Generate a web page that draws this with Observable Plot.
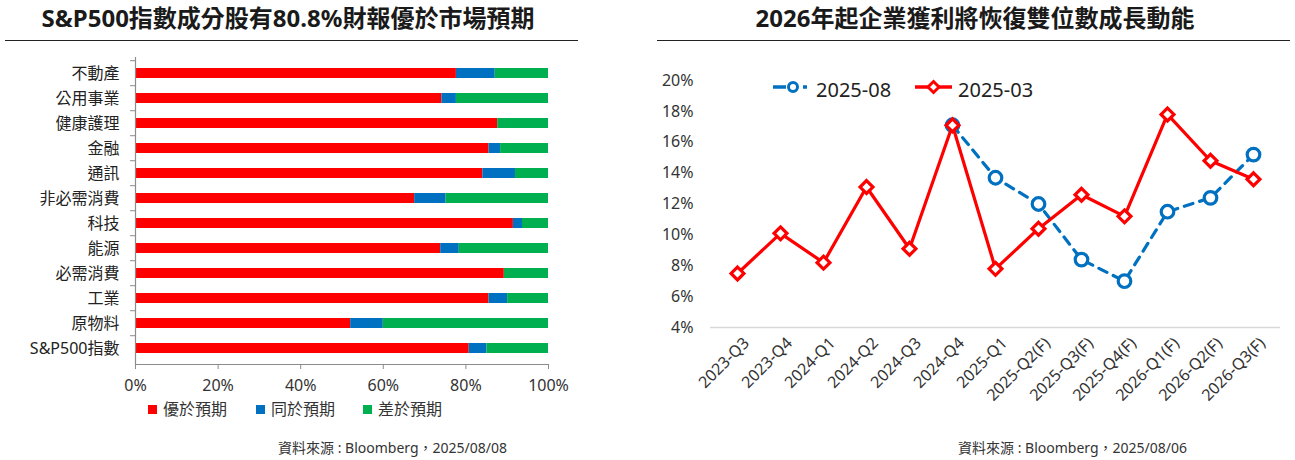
<!DOCTYPE html>
<html><head><meta charset="utf-8">
<script src="https://cdn.jsdelivr.net/npm/d3@7"></script>
<script src="https://cdn.jsdelivr.net/npm/@observablehq/plot@0.6"></script>
<style>
body{margin:0;background:#fff;font-family:"Noto Sans","Noto Sans CJK TC",sans-serif;}
#wrap{position:relative;width:1295px;height:460px;overflow:hidden;background:#fff;}
.title{position:absolute;top:2px;font-size:24px;font-weight:bold;color:#1a1a1a;text-align:center;line-height:32px;white-space:nowrap;}
.uline{position:absolute;top:40px;height:0;border-top:1.5px solid #222;}
.cap{position:absolute;top:437px;font-size:14px;color:#333;white-space:nowrap;}
.plot{position:absolute;}
.plot svg{overflow:visible;display:block;}
.leg{position:absolute;font-size:16px;color:#333;white-space:nowrap;}
.leg .sw{position:absolute;width:9px;height:9px;top:6px;}
.leg .tx{position:absolute;top:-3px;}
.rleg{position:absolute;font-size:20px;color:#222;white-space:nowrap;}
.rleg svg{position:absolute;top:0;}
.rleg .tx{position:absolute;top:-1px;}
</style></head>
<body>
<div id="wrap">
  <div class="title" style="left:0;width:576px;">S&amp;P500指數成分股有80.8%財報優於市場預期</div>
  <div class="uline" style="left:5px;width:573px;"></div>
  <div class="title" style="left:657px;width:636px;">2026年起企業獲利將恢復雙位數成長動能</div>
  <div class="uline" style="left:657px;width:633px;"></div>
  <div id="left" class="plot" style="left:0;top:45px;"></div>
  <div id="right" class="plot" style="left:650px;top:45px;"></div>
  <div id="lleg"></div>
  <div id="rleg"></div>
  <div class="cap" style="left:278px;">資料來源 : Bloomberg，2025/08/08</div>
  <div class="cap" style="left:958px;">資料來源 : Bloomberg，2025/08/06</div>
</div>
<script>
// ---------- Left chart data ----------
const sectors = ["不動產","公用事業","健康護理","金融","通訊","非必需消費","科技","能源","必需消費","工業","原物料","S&P500指數"];
const beat   = [77.7, 74.2, 87.7, 85.6, 84.1, 67.6, 91.5, 73.9, 89.3, 85.6, 52.1, 80.8];
const inline = [ 9.4,  3.5,  0.0,  2.8,  7.9,  7.6,  2.2,  4.5,  0.0,  4.5,  7.9,  4.3];
const miss   = [12.9, 22.3, 12.3, 11.6,  8.0, 24.8,  6.3, 21.6, 10.7,  9.9, 40.0, 14.9];
const outcomeNames = ["優於預期","同於預期","差於預期"];
const outcomeColors = ["#ff0000","#0070c0","#00b050"];
const xTicksLeft = [0, 0.2, 0.4, 0.6, 0.8, 1.0];

// ---------- Right chart data ----------
const quarters = ["2023-Q3","2023-Q4","2024-Q1","2024-Q2","2024-Q3","2024-Q4","2025-Q1","2025-Q2(F)","2025-Q3(F)","2025-Q4(F)","2026-Q1(F)","2026-Q2(F)","2026-Q3(F)"];
const est202503 = [7.5, 10.1, 8.2, 13.1, 9.1, 17.1, 7.8, 10.4, 12.6, 11.2, 17.8, 14.8, 13.6];
const est202508 = [null, null, null, null, null, 17.1, 13.7, 12.0, 8.4, 7.0, 11.5, 12.4, 15.2];
const seriesNames = ["2025-08","2025-03"];
const seriesColors = ["#0070c0","#ff0000"];
const yTicksRight = [0.04,0.06,0.08,0.10,0.12,0.14,0.16,0.18,0.20];

const FONT = '"Noto Sans","Noto Sans CJK TC",sans-serif';

// ---------- Left chart ----------
const stackRows = [];
sectors.forEach((s, i) => {
  stackRows.push({sector: s, type: outcomeNames[0], v: beat[i] / 100});
  stackRows.push({sector: s, type: outcomeNames[1], v: inline[i] / 100});
  stackRows.push({sector: s, type: outcomeNames[2], v: miss[i] / 100});
});
const LW = 580, LH = 355, LMT = 12, LMB = 36;
const step = (LH - LMT - LMB) / sectors.length;
const left = Plot.plot({
  width: LW, height: LH,
  marginLeft: 135, marginRight: 32, marginTop: LMT, marginBottom: LMB,
  style: {fontFamily: FONT, fontSize: "16px", color: "#333", background: "transparent"},
  x: {domain: [0, 1], label: null},
  y: {domain: sectors, paddingInner: 0.6, paddingOuter: 0.3, label: null},
  color: {domain: outcomeNames, range: outcomeColors},
  marks: [
    Plot.barX(stackRows, Plot.stackX({x: "v", y: "sector", fill: "type", order: null})),
    Plot.ruleX([0], {stroke: "#8c8c8c", strokeWidth: 1.2}),
    Plot.frame({anchor: "bottom", stroke: "#8c8c8c", strokeWidth: 1.2}),
    Plot.axisY({tickSize: 0, tickPadding: 16, fontSize: 16, fill: "#222"}),
    Plot.axisY({tickSize: 5, tickFormat: () => "", dy: -step / 2, stroke: "#8c8c8c"}),
    Plot.axisX({ticks: xTicksLeft, tickFormat: d3.format(".0%"), tickSize: 5, tickPadding: 10, fontSize: 16, fill: "#333", stroke: "#8c8c8c"})
  ]
});
document.getElementById("left").appendChild(left);

// left legend
const lleg = document.getElementById("lleg");
const legX = [148, 256, 363];
outcomeNames.forEach((n, i) => {
  const d = document.createElement("div");
  d.className = "leg";
  d.style.left = legX[i] + "px";
  d.style.top = "399px";
  d.innerHTML = `<div class="sw" style="left:0;background:${outcomeColors[i]}"></div><div class="tx" style="left:15px">${n}</div>`;
  lleg.appendChild(d);
});

// ---------- Right chart ----------
const rows03 = quarters.map((q, i) => ({q, v: est202503[i] == null ? null : est202503[i] / 100}));
const rows08 = quarters.map((q, i) => ({q, v: est202508[i] == null ? null : est202508[i] / 100}));
const right = Plot.plot({
  width: 645, height: 370,
  marginLeft: 60, marginRight: 15, marginTop: 35, marginBottom: 88,
  style: {fontFamily: FONT, fontSize: "16px", color: "#333", background: "transparent"},
  x: {type: "point", domain: quarters, padding: 0.5, label: null},
  y: {domain: [0.04, 0.20], label: null},
  marks: [
    Plot.ruleY([0.04], {stroke: "#d9d9d9", strokeWidth: 1.5}),
    Plot.axisY({ticks: yTicksRight, tickFormat: d3.format(".0%"), tickSize: 0, tickPadding: 17, fontSize: 16, fill: "#333"}),
    Plot.axisX({tickSize: 0, tickRotate: -45, tickPadding: 13, dx: 9, fontSize: 16, fill: "#333"}),
    Plot.line(rows08, {x: "q", y: "v", stroke: seriesColors[0], strokeWidth: 3.2, strokeDasharray: "9,7"}),
    Plot.dot(rows08, {x: "q", y: "v", r: 6.3, symbol: "circle", stroke: seriesColors[0], strokeWidth: 3.2, fill: "white"}),
    Plot.line(rows03, {x: "q", y: "v", stroke: seriesColors[1], strokeWidth: 3.2}),
    Plot.dot(rows03, {x: "q", y: "v", r: 5.8, symbol: "diamond2", stroke: seriesColors[1], strokeWidth: 3.2, fill: "white"})
  ]
});
document.getElementById("right").appendChild(right);

// right legend (inside plot area)
const rleg = document.getElementById("rleg");
const rlegX = [773, 915];
seriesNames.forEach((n, i) => {
  const d = document.createElement("div");
  d.className = "rleg";
  d.style.left = rlegX[i] + "px";
  d.style.top = "77px";
  const c = seriesColors[i];
  const glyph = i === 0
    ? `<line x1="0" y1="10" x2="36" y2="10" stroke="${c}" stroke-width="3.5" stroke-dasharray="13,17,4,6"/><circle cx="20" cy="10" r="4.5" fill="white" stroke="${c}" stroke-width="3"/>`
    : `<line x1="0" y1="10" x2="37" y2="10" stroke="${c}" stroke-width="3.5"/><path d="M18.5,4.5L24,10L18.5,15.5L13,10Z" fill="white" stroke="${c}" stroke-width="3"/>`;
  d.innerHTML = `<svg width="40" height="20">${glyph}</svg><div class="tx" style="left:43px">${n}</div>`;
  rleg.appendChild(d);
});
</script>
</body></html>
